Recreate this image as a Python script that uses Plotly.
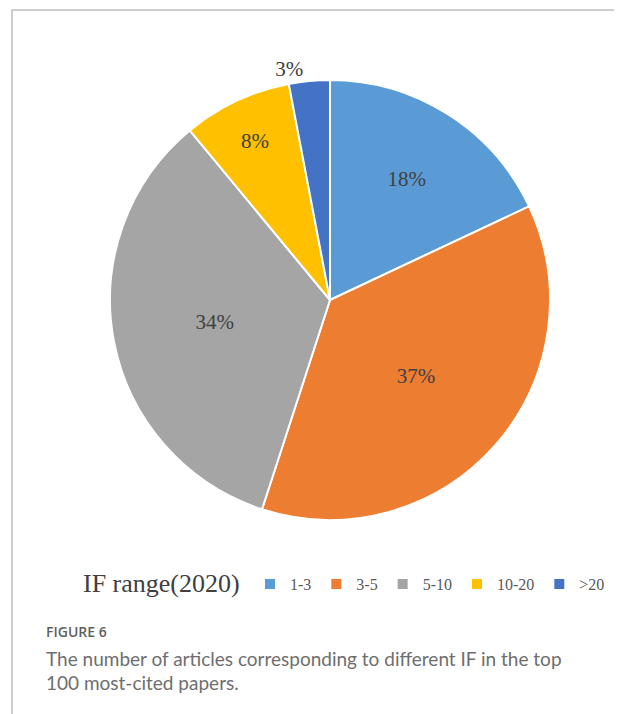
import plotly.graph_objects as go

# Page is 622x714, the HTML body adds an 8px margin, so the figure is 614x706
PAGE_W, PAGE_H = 622, 714
OFF = 8
W, H = PAGE_W - OFF, PAGE_H - OFF

legend_labels = ["1-3", "3-5", "5-10", "10-20", ">20"]
shares = [18, 37, 34, 8, 3]
colors = ["#5B9BD5", "#ED7D31", "#A5A5A5", "#FFC000", "#4472C4"]
text_positions = ["inside", "inside", "inside", "inside", "outside"]

legend_title = "IF range(2020)"
fig_label = "FIGURE 6"
caption_lines = [
    "The number of articles corresponding to different IF in the top",
    "100 most-cited papers.",
]


def px_x(x):
    return (x - OFF) / W


def px_y(y):
    return 1 - (y - OFF) / H


cx, cy, r = 330, 300, 220

fig = go.Figure(
    go.Pie(
        labels=legend_labels,
        values=shares,
        sort=False,
        direction="clockwise",
        rotation=0,
        marker=dict(colors=colors, line=dict(color="white", width=2)),
        texttemplate="%{value}%",
        textposition=text_positions,
        insidetextorientation="horizontal",
        textfont=dict(family="Liberation Serif", size=21, color="#404040"),
        hoverinfo="label+percent",
        domain=dict(x=[px_x(cx - r), px_x(cx + r)], y=[px_y(cy + r), px_y(cy - r)]),
    )
)

fig.update_layout(
    width=W,
    height=H,
    margin=dict(l=0, r=0, t=0, b=0),
    paper_bgcolor="white",
    showlegend=True,
    legend=dict(
        orientation="h",
        x=px_x(250),
        xanchor="left",
        y=px_y(584),
        yanchor="middle",
        font=dict(family="Liberation Serif", size=16, color="#595959"),
        itemwidth=30,
        tracegroupgap=0,
    ),
    shapes=[
        dict(type="rect", xref="paper", yref="paper",
             x0=px_x(12), x1=1.05, y0=-0.05, y1=px_y(10),
             line=dict(color="#BFBFBF", width=1.5), fillcolor="rgba(0,0,0,0)"),
    ],
    annotations=[
        dict(text=legend_title, xref="paper", yref="paper", x=px_x(81), y=px_y(583),
             xanchor="left", yanchor="middle", showarrow=False,
             font=dict(family="Liberation Serif", size=26, color="#404040")),
        dict(text=fig_label, xref="paper", yref="paper", x=px_x(44), y=px_y(631),
             xanchor="left", yanchor="middle", showarrow=False,
             font=dict(family="Open Sans", size=14, color="#5f5f5f", weight=600)),
        dict(text=caption_lines[0], xref="paper", yref="paper", x=px_x(44), y=px_y(658),
             xanchor="left", yanchor="middle", showarrow=False,
             font=dict(family="Lato", size=19, color="#6e6e6e")),
        dict(text=caption_lines[1], xref="paper", yref="paper", x=px_x(44), y=px_y(682),
             xanchor="left", yanchor="middle", showarrow=False,
             font=dict(family="Lato", size=19, color="#6e6e6e")),
    ],
)

fig.write_html("out.html")
